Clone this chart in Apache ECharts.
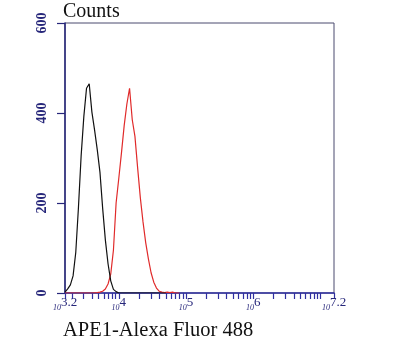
<!DOCTYPE html>
<html>
<head>
<meta charset="utf-8">
<script src="https://cdn.jsdelivr.net/npm/echarts@6/dist/echarts.min.js"></script>
<style>html,body{margin:0;padding:0;background:#fff}#c{width:400px;height:346px}</style>
</head>
<body>
<div id="c"></div>
<script>
// log10(fluorescence) bin centers and counts
var blackLogX = [3.20,3.24,3.28,3.32,3.36,3.40,3.44,3.48,3.52,3.56,3.60,3.64,3.68,3.72,3.76,3.80,3.84,3.88,3.92,3.96,4.00,4.20,4.40,4.60,4.70];
var blackCounts = [2,9,18,38,90,190,305,392,455,465,402,362,318,268,188,118,65,27,8,3,0,0,0,0,0];
var redLogX = [3.20,3.40,3.60,3.68,3.72,3.76,3.80,3.84,3.88,3.92,3.96,4.00,4.04,4.08,4.12,4.16,4.20,4.24,4.28,4.32,4.36,4.40,4.44,4.48,4.52,4.56,4.60,4.64,4.68,4.72,4.76,4.80,4.84,4.90];
var redCounts = [0,0,0,1,2,4,9,20,42,95,200,255,312,372,420,455,385,348,278,212,158,112,76,45,24,11,4,2,1,2,1,2,0,0];
var yTicks = [0,200,400,600];
var xLabelExps = ['3.2','4','5','6','7.2'];
var xLabelValues = [3.2,4,5,6,7.2];
var minorMultipliers = [1,2,3,4,5,6,7,8,9];
var decades = [3,4,5,6,7];

var tickValues = [3.2,7.2];
decades.forEach(function(k){
  minorMultipliers.forEach(function(m){
    var v = Math.log10(m) + k;
    if (v > 3.2 && v < 7.2) tickValues.push(v);
  });
});

function pairs(xs, ys){ return xs.map(function(x,i){ return [x, ys[i]]; }); }

var navy = '#26267a';
var chart = echarts.init(document.getElementById('c'));
chart.setOption({
  animation: false,
  backgroundColor: '#fff',
  grid: {left: 65, right: 66, top: 23, bottom: 53, containLabel: false, outerBoundsMode: 'none',
         show: true, borderColor: '#4a4a6e', borderWidth: 1},
  xAxis: {
    type: 'value', min: 3.2, max: 7.2,
    axisLine: {show: true, lineStyle: {color: '#3030a0', width: 1.5}},
    axisTick: {show: true, inside: false, length: 6, customValues: tickValues, lineStyle: {color: '#3030a0', width: 1.2}},
    splitLine: {show: false},
    axisLabel: {
      customValues: xLabelValues, margin: 3,
      formatter: function(v){
        var i = xLabelValues.findIndex(function(x){ return Math.abs(x - v) < 1e-6; });
        return '{t|10}{e|' + xLabelExps[i] + '}';
      },
      rich: {
        t: {fontSize: 8, fontStyle: 'italic', fontFamily: 'Liberation Serif', color: navy, verticalAlign: 'bottom', lineHeight: 16, padding: [4,0,0,0]},
        e: {fontSize: 13, fontFamily: 'Liberation Serif', color: navy, verticalAlign: 'top', lineHeight: 16, padding: [0,0,2,0]}
      }
    }
  },
  yAxis: {
    type: 'value', min: 0, max: 600, interval: 200,
    axisLine: {show: true, lineStyle: {color: navy, width: 1.5}},
    axisTick: {show: true, inside: false, length: 8, lineStyle: {color: navy, width: 1.2}},
    splitLine: {show: false},
    axisLabel: {rotate: 90, margin: 16, fontSize: 14, fontWeight: 'bold', fontFamily: 'Liberation Serif', color: navy}
  },
  series: [
    {type: 'line', showSymbol: false, symbol: 'none', data: pairs(blackLogX, blackCounts),
     lineStyle: {color: '#111111', width: 1.2}, z: 3},
    {type: 'line', showSymbol: false, symbol: 'none', data: pairs(redLogX, redCounts),
     lineStyle: {color: '#e02a2a', width: 1.2}, z: 2}
  ],
  graphic: [
    {type: 'text', left: 63, top: 2, style: {text: 'Counts', font: '20px "Liberation Serif"', fill: '#111'}},
    {type: 'text', left: 63, top: 320, style: {text: 'APE1-Alexa Fluor 488', font: '20.5px "Liberation Serif"', fill: '#111'}}
  ]
});
</script>
</body>
</html>
